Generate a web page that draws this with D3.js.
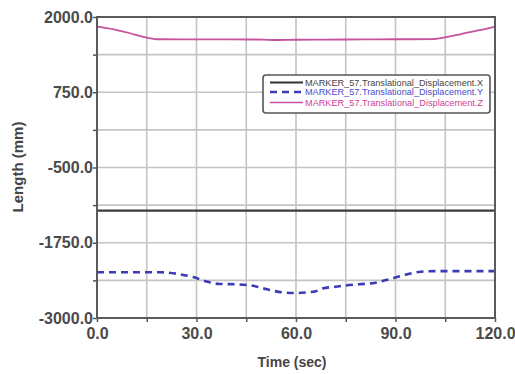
<!DOCTYPE html>
<html><head><meta charset="utf-8">
<script src="https://cdn.jsdelivr.net/npm/d3@7"></script>
<style>body{margin:0;background:#fff;}svg{display:block;font-family:"Liberation Sans",Arial,sans-serif;}</style>
</head><body>
<svg id="c" width="515" height="374"></svg>
<script>
// ---- data ----
const xTicks = [0, 30, 60, 90, 120];
const xGrid = [0, 15, 30, 45, 60, 75, 90, 105, 120];
const yTicks = [2000, 750, -500, -1750, -3000];
const yGrid = [2000, 1375, 750, 125, -500, -1125, -1750, -2375, -3000];

const xTime = [0, 120];
const xVals = [-1217, -1217];

const yTime = [0, 19, 24, 29, 33, 37, 42, 47, 51, 56, 60, 63, 66, 68, 72, 75, 79, 84, 88, 92, 97, 102, 110, 120];
const yVals = [-2240, -2240, -2265, -2320, -2395, -2435, -2440, -2465, -2520, -2575, -2585, -2575, -2555, -2510, -2480, -2460, -2440, -2413, -2357, -2297, -2235, -2222, -2222, -2222];

const zTime = [0, 5, 10, 14, 18, 25, 40, 50, 54, 60, 70, 80, 90, 101, 106, 110, 114, 117, 120];
const zVals = [1840, 1795, 1730, 1668, 1630, 1628, 1628, 1625, 1618, 1622, 1625, 1628, 1630, 1632, 1673, 1720, 1767, 1800, 1840];

const seriesNames = ["MARKER_57.Translational_Displacement.X", "MARKER_57.Translational_Displacement.Y", "MARKER_57.Translational_Displacement.Z"];

// ---- layout ----
const svg = d3.select("#c");
const L = 97, R = 495, T = 17, B = 318;
const x = d3.scaleLinear().domain([0, 120]).range([L, R]);
const y = d3.scaleLinear().domain([-3000, 2000]).range([B, T]);

// grid
const g = svg.append("g");
g.selectAll(".vg").data(xGrid).join("line")
  .attr("x1", d => x(d)).attr("x2", d => x(d)).attr("y1", T).attr("y2", B)
  .attr("stroke", "#c4c4c4").attr("stroke-width", 1.6);
g.selectAll(".hg").data(yGrid).join("line")
  .attr("y1", d => y(d)).attr("y2", d => y(d)).attr("x1", L).attr("x2", R)
  .attr("stroke", "#c4c4c4").attr("stroke-width", 1.6);

// axes
const xAxis = d3.axisBottom(x).tickValues(xGrid).tickSize(4).tickFormat(d => xTicks.includes(d) ? d.toFixed(1) : "");
const yAxis = d3.axisLeft(y).tickValues(yGrid).tickSize(4).tickFormat(d => yTicks.includes(d) ? d.toFixed(1) : "");
const gx = svg.append("g").attr("transform", `translate(0,${B})`).call(xAxis);
const gy = svg.append("g").attr("transform", `translate(${L},0)`).call(yAxis);
[gx, gy].forEach(a => {
  a.select(".domain").remove();
  a.selectAll(".tick line").attr("stroke", "#555").attr("stroke-width", 1.5);
  a.selectAll(".tick text").attr("fill", "#4a4a4a").attr("font-size", 16).attr("font-weight", 600)
   .attr("font-family", "'Liberation Sans', Arial, sans-serif");
});
gx.selectAll(".tick text").attr("dy", "0.71em").attr("y", 10);
gy.selectAll(".tick text").attr("x", -4);

// lines
const line = d3.line().x(d => x(d[0])).y(d => y(d[1])).curve(d3.curveMonotoneX);
const zip = (a, b) => a.map((t, i) => [t, b[i]]);
svg.append("path").datum(zip(xTime, xVals)).attr("d", line)
  .attr("fill", "none").attr("stroke", "#3a3a3a").attr("stroke-width", 2.2);
svg.append("path").datum(zip(yTime, yVals)).attr("d", line)
  .attr("fill", "none").attr("stroke", "#3b3bb5").attr("stroke-width", 2.6).attr("stroke-dasharray", "7,5");
svg.append("path").datum(zip(zTime, zVals)).attr("d", line)
  .attr("fill", "none").attr("stroke", "#c8509e").attr("stroke-width", 1.8);

// frame
svg.append("rect").attr("x", L).attr("y", T).attr("width", R - L).attr("height", B - T)
  .attr("fill", "none").attr("stroke", "#5a5a5a").attr("stroke-width", 2);

// legend
const lg = svg.append("g");
lg.append("rect").attr("x", 263).attr("y", 75).attr("width", 227).attr("height", 38).attr("rx", 3)
  .attr("fill", "#fff").attr("stroke", "#555").attr("stroke-width", 1.6);
const legStyles = [
  {c: "#333", tc: "#444", w: 2.2, dash: null},
  {c: "#3b3bb5", tc: "#4a4acc", w: 2.6, dash: "7,5"},
  {c: "#c8509e", tc: "#cc3f99", w: 1.6, dash: null}
];
const rows = [82.5, 92, 102.5];
seriesNames.forEach((n, i) => {
  const s = legStyles[i];
  lg.append("line").attr("x1", 270).attr("x2", 303).attr("y1", rows[i]).attr("y2", rows[i])
    .attr("stroke", s.c).attr("stroke-width", s.w).attr("stroke-dasharray", s.dash);
  lg.append("text").attr("x", 305).attr("y", rows[i]).attr("dy", "0.35em")
    .attr("font-size", 9).attr("fill", s.tc).attr("textLength", 178).attr("lengthAdjust", "spacingAndGlyphs")
    .text(n);
});

// axis titles
svg.append("text").attr("x", 292).attr("y", 367).attr("text-anchor", "middle")
  .attr("font-size", 14).attr("font-weight", "bold").attr("fill", "#444").text("Time (sec)");
svg.append("text").attr("transform", "translate(23,167) rotate(-90)").attr("text-anchor", "middle")
  .attr("font-size", 15).attr("font-weight", "bold").attr("fill", "#444").text("Length (mm)");
</script>
</body></html>
